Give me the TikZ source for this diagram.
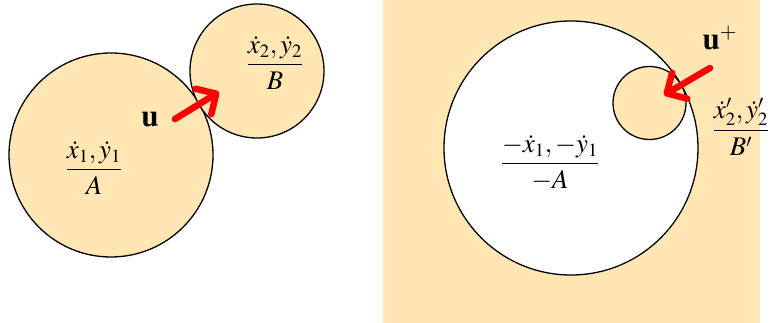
\documentclass[tikz,border=0pt]{standalone}
\usepackage{amsmath}
\usepackage{mathptmx}
\usepackage{graphicx}
\usepackage{tikz}
\usetikzlibrary{arrows.meta}
\definecolor{DiskTan}{HTML}{FFE6B3}
\definecolor{DiskRed}{HTML}{FF0000}
\newcommand{\bigfrac}[2]{\scalebox{1.08}{$\dfrac{#1}{#2}$}}

\begin{document}
\begin{tikzpicture}[x=1pt,y=-1pt,
  disk/.style={draw=black,line width=1.3pt},
  push/.style={DiskRed,line width=6.5pt,line cap=round,-{Straight Barb[round,length=15pt,width=30pt]}},
  lbl/.style={inner sep=0pt,font=\fontsize{24.88}{30}\selectfont}]
\path[use as bounding box] (0,0) rectangle (772,323);
% left: two disks touching
\draw[disk,fill=DiskTan] (111,155) circle (102);
\draw[disk,fill=DiskTan] (257,71) circle (67);
\node[lbl] (fa) at (94,168) {\bigfrac{\dot x_1,\dot y_1}{A}};
\node[lbl] (fb) at (275,63) {\bigfrac{\dot x_2,\dot y_2}{B}};
\node[lbl] (u) at (150,119) {\scalebox{1.25}{$\mathbf{u}$}};
\coordinate (ua) at (175,119);
\coordinate (ub) at (219,92);
\draw[push] (ua) -- (ub);
% right: inverted disk in the plane
\fill[DiskTan] (383,0) rectangle (760,323);
\draw[disk,fill=white] (571,148) circle (127);
\draw[disk,fill=DiskTan] (649.5,103) circle (36.5);
\node[lbl] (fc) at (550,163) {\bigfrac{-\dot x_1,-\dot y_1}{-A}};
\node[lbl] (fd) at (741,127) {\bigfrac{\dot x_2',\dot y_2'}{B'}};
\node[lbl] (up) at (720,38) {\scalebox{1.25}{$\mathbf{u}^+$}};
\coordinate (va) at (710,68);
\coordinate (vb) at (664,95);
\draw[push] (va) -- (vb);
\end{tikzpicture}
\end{document}
